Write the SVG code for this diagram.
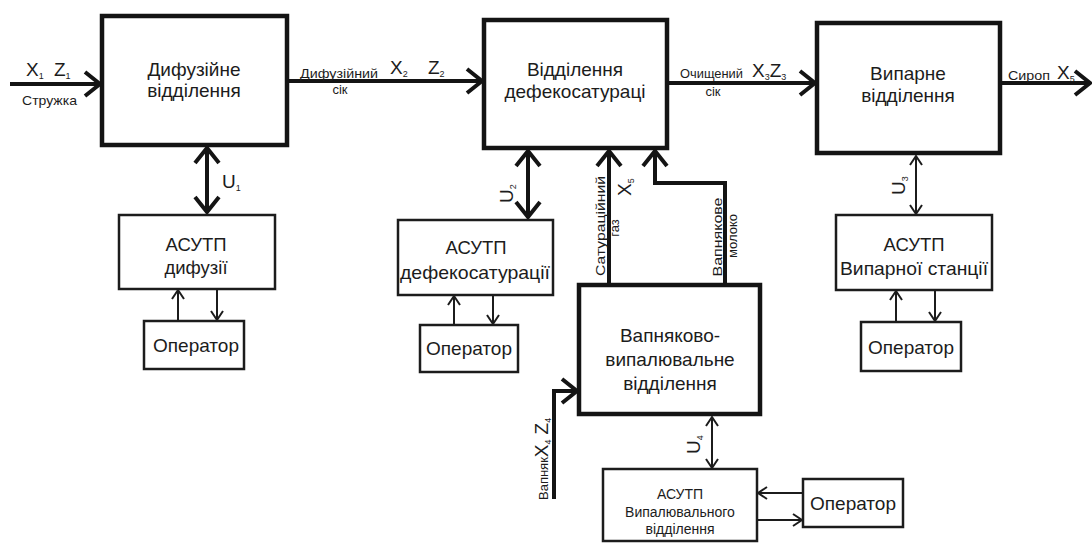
<svg xmlns="http://www.w3.org/2000/svg" width="1092" height="543" viewBox="0 0 1092 543">
<defs>
<style>
text{font-family:"Liberation Sans",Arial,sans-serif;fill:#1c1c1c}
.big{fill:#fff;stroke:#141414;stroke-width:4.5}
.mid{fill:#fff;stroke:#1c1c1c;stroke-width:2.5}
.t19{font-size:19px;text-anchor:middle}
.t18{font-size:18.5px;text-anchor:middle}
.t14{font-size:14px;text-anchor:middle}
.lbl{font-size:19px}
.sm{font-size:13px}
.thick{fill:none;stroke:#141414;stroke-width:4}
.thin{fill:none;stroke:#1c1c1c;stroke-width:2}
</style>
<marker id="hb" markerUnits="userSpaceOnUse" markerWidth="24" markerHeight="30" viewBox="-4 -15 24 30" refX="16" refY="0" orient="auto-start-reverse" overflow="visible">
<path d="M1,-12 L16,0 L1,12" fill="none" stroke="#141414" stroke-width="4"/>
</marker>
<marker id="hs" markerUnits="userSpaceOnUse" markerWidth="16" markerHeight="18" viewBox="-3 -9 16 18" refX="9" refY="0" orient="auto-start-reverse" overflow="visible">
<path d="M0,-6 L9,0 L0,6" fill="none" stroke="#1c1c1c" stroke-width="2"/>
</marker>
</defs>
<rect width="1092" height="543" fill="#fff"/>

<g id="connectors">
<path class="thick" d="M10,84 H100" marker-end="url(#hb)"/>
<path class="thick" d="M287,81 H482" marker-end="url(#hb)"/>
<path class="thick" d="M667,83 H815" marker-end="url(#hb)"/>
<path class="thick" d="M1000,83 H1090" marker-end="url(#hb)"/>
<path class="thick" d="M207,148 V212" marker-start="url(#hb)" marker-end="url(#hb)"/>
<path class="thick" d="M528,151 V217" marker-start="url(#hb)" marker-end="url(#hb)"/>
<path class="thin" d="M916,156 V214" marker-start="url(#hs)" marker-end="url(#hs)"/>
<path class="thin" d="M712,417 V468" marker-start="url(#hs)" marker-end="url(#hs)"/>
<path class="thick" d="M609,285 V151" marker-end="url(#hb)"/>
<path class="thick" d="M725,285 V183 H655 V151" marker-end="url(#hb)"/>
<path class="thick" d="M554,499 V391 H577" marker-end="url(#hb)"/>
<path class="thin" d="M178,321 V290" marker-end="url(#hs)"/>
<path class="thin" d="M217,289 V320" marker-end="url(#hs)"/>
<path class="thin" d="M454,325 V296" marker-end="url(#hs)"/>
<path class="thin" d="M493,295 V324" marker-end="url(#hs)"/>
<path class="thin" d="M896,322 V291" marker-end="url(#hs)"/>
<path class="thin" d="M935,290 V321" marker-end="url(#hs)"/>
<path class="thin" d="M803,493 H758" marker-end="url(#hs)"/>
<path class="thin" d="M757,520 H802" marker-end="url(#hs)"/>
</g>

<g id="labels">
<text x="26" y="76" class="lbl">X<tspan font-size="9" dy="3">1</tspan></text>
<text x="54" y="76" class="lbl">Z<tspan font-size="9" dy="3">1</tspan></text>
<text x="22" y="105" class="sm" textLength="55" lengthAdjust="spacingAndGlyphs">Стружка</text>
<text x="300" y="78" class="sm" textLength="78" lengthAdjust="spacingAndGlyphs">Дифузійний</text>
<text x="340" y="94" class="sm" text-anchor="middle">сік</text>
<text x="390" y="74" class="lbl">X<tspan font-size="9" dy="3">2</tspan></text>
<text x="428" y="74" class="lbl">Z<tspan font-size="9" dy="3">2</tspan></text>
<text x="680" y="78" class="sm" textLength="63" lengthAdjust="spacingAndGlyphs">Очищений</text>
<text x="713" y="96" class="sm" text-anchor="middle">сік</text>
<text x="752" y="77" class="lbl">X<tspan font-size="9" dy="3">3</tspan><tspan dy="-3">Z</tspan><tspan font-size="9" dy="3">3</tspan></text>
<text x="1008" y="80" class="sm" textLength="42" lengthAdjust="spacingAndGlyphs">Сироп</text>
<text x="1057" y="79" class="lbl">X<tspan font-size="9" dy="3">5</tspan></text>
<text x="222" y="188" class="lbl">U<tspan font-size="9" dy="3">1</tspan></text>
<text transform="translate(513,203) rotate(-90)" class="lbl">U<tspan font-size="9" dy="3">2</tspan></text>
<text transform="translate(905,195) rotate(-90)" class="lbl">U<tspan font-size="9" dy="3">3</tspan></text>
<text transform="translate(700,454) rotate(-90)" class="lbl">U<tspan font-size="9" dy="3">4</tspan></text>
<text transform="translate(631,196) rotate(-90)" class="lbl">X<tspan font-size="9" dy="3">5</tspan></text>
<text transform="translate(605,226) rotate(-90)" class="sm" text-anchor="middle" textLength="100" lengthAdjust="spacingAndGlyphs">Сатураційний</text>
<text transform="translate(619,228) rotate(-90)" class="sm" text-anchor="middle">газ</text>
<text transform="translate(722,237) rotate(-90)" class="sm" text-anchor="middle" textLength="79" lengthAdjust="spacingAndGlyphs">Вапнякове</text>
<text transform="translate(737,236) rotate(-90)" class="sm" text-anchor="middle">молоко</text>
<text transform="translate(548,500) rotate(-90)" class="sm">Вапняк<tspan font-size="19">X</tspan><tspan font-size="9" dy="3">4</tspan><tspan font-size="19" dy="-3" dx="5">Z</tspan><tspan font-size="9" dy="3">4</tspan></text>
</g>

<g id="n-dyfuziine">
<rect class="big" x="102" y="16" width="185" height="129"/>
<text class="t19" x="194" y="76">Дифузійне</text>
<text class="t19" x="194" y="97">відділення</text>
</g>
<g id="n-defekosaturatsii">
<rect class="big" x="484" y="20" width="183" height="128"/>
<text class="t19" x="575" y="76">Відділення</text>
<text class="t19" x="575" y="98">дефекосатураці</text>
</g>
<g id="n-vyparne">
<rect class="big" x="817" y="23" width="183" height="130"/>
<text class="t19" x="908" y="80">Випарне</text>
<text class="t19" x="908" y="102">відділення</text>
</g>
<g id="n-vapniakovo">
<rect class="big" x="579" y="285" width="181" height="129"/>
<text class="t19" x="670" y="342">Вапняково-</text>
<text class="t19" x="670" y="366">випалювальне</text>
<text class="t19" x="670" y="390">відділення</text>
</g>
<g id="n-asutp1">
<rect class="mid" x="119" y="215" width="156" height="74"/>
<text class="t18" x="196" y="251">АСУТП</text>
<text class="t18" x="196" y="274">дифузії</text>
</g>
<g id="n-oper1">
<rect class="mid" x="144" y="321" width="100" height="48"/>
<text class="t19" x="196" y="352">Оператор</text>
</g>
<g id="n-asutp2">
<rect class="mid" x="398" y="220" width="155" height="75"/>
<text class="t18" x="476" y="254">АСУТП</text>
<text class="t18" x="475" y="279" textLength="150" lengthAdjust="spacingAndGlyphs">дефекосатурації</text>
</g>
<g id="n-oper2">
<rect class="mid" x="420" y="325" width="98" height="47"/>
<text class="t19" x="469" y="355">Оператор</text>
</g>
<g id="n-asutp3">
<rect class="mid" x="836" y="215" width="156" height="75"/>
<text class="t18" x="914" y="251">АСУТП</text>
<text class="t18" x="914" y="275" textLength="148" lengthAdjust="spacingAndGlyphs">Випарної станції</text>
</g>
<g id="n-oper3">
<rect class="mid" x="861" y="322" width="100" height="49"/>
<text class="t19" x="911" y="354">Оператор</text>
</g>
<g id="n-asutp4">
<rect class="mid" x="603" y="469" width="154" height="72"/>
<text class="t14" x="680" y="499">АСУТП</text>
<text class="t14" x="680" y="517">Випалювального</text>
<text class="t14" x="680" y="534">відділення</text>
</g>
<g id="n-oper4">
<rect class="mid" x="803" y="479" width="100" height="48"/>
<text class="t19" x="853" y="510">Оператор</text>
</g>
</svg>
